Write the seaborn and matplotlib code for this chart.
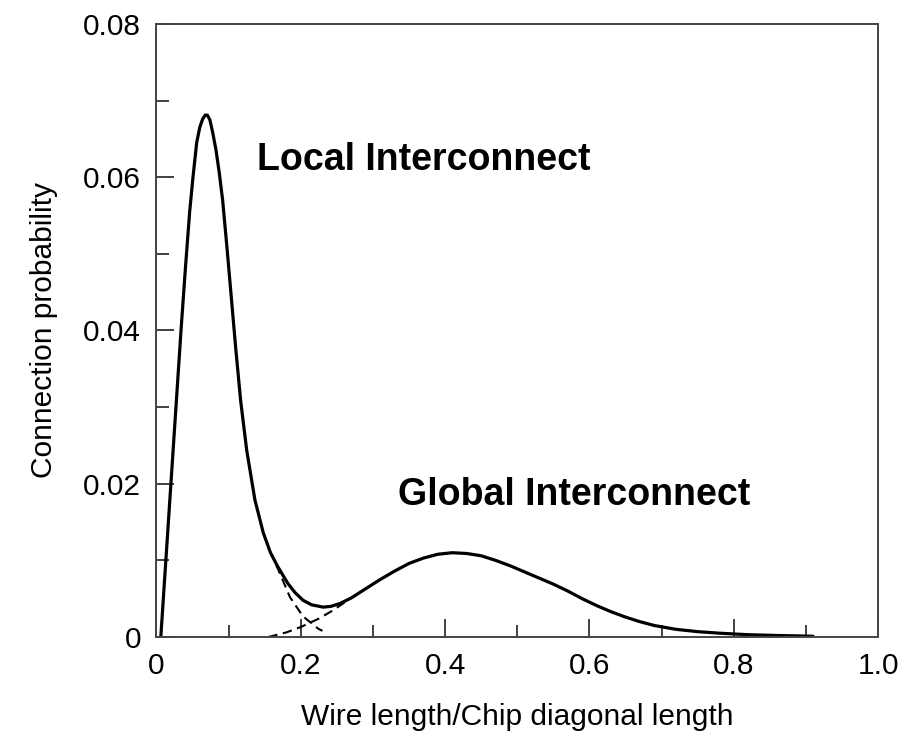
"""
plot.py
-------
Distribution des longueurs de fil (interconnexions locales / globales).
"""

import matplotlib
matplotlib.use("Agg")
import matplotlib.pyplot as plt
import pandas as pd
import seaborn as sns
from matplotlib.ticker import MultipleLocator

# Courbe totale
wire_length = [0.006, 0.013, 0.020, 0.027, 0.034, 0.040, 0.046, 0.0506, 0.0557,
               0.060, 0.064, 0.0675, 0.0705, 0.074, 0.078, 0.0824, 0.087, 0.0917,
               0.098, 0.104, 0.110, 0.1166, 0.125, 0.1364, 0.148, 0.158, 0.168,
               0.182, 0.192, 0.203, 0.215, 0.231, 0.242, 0.255, 0.270, 0.290,
               0.310, 0.330, 0.350, 0.370, 0.390, 0.410, 0.430, 0.450, 0.470,
               0.490, 0.510, 0.530, 0.550, 0.570, 0.590, 0.610, 0.630, 0.650,
               0.670, 0.690, 0.720, 0.750, 0.780, 0.820, 0.860, 0.910]
probability = [0.0, 0.010, 0.020, 0.030, 0.040, 0.048, 0.0555, 0.060, 0.0645,
               0.0665, 0.0676, 0.0681, 0.0681, 0.0675, 0.0658, 0.0636, 0.0606, 0.0570,
               0.0505, 0.0440, 0.0375, 0.0309, 0.0244, 0.0179, 0.0136, 0.0110, 0.0092,
               0.0070, 0.0058, 0.0048, 0.0042, 0.0039, 0.0040, 0.0044, 0.0051, 0.0063,
               0.0075, 0.0086, 0.0096, 0.0103, 0.0108, 0.0110, 0.0109, 0.0106, 0.0100,
               0.0093, 0.0085, 0.0077, 0.0069, 0.0060, 0.0050, 0.0041, 0.0033, 0.0026,
               0.0020, 0.0015, 0.0010, 0.0007, 0.0005, 0.0003, 0.0002, 0.0001]

# Queue de la composante locale (pointillés)
local_x = [0.166, 0.185, 0.203, 0.224, 0.230]
local_y = [0.0094, 0.0052, 0.0027, 0.0011, 0.0008]

# Début de la composante globale (pointillés)
global_x = [0.155, 0.180, 0.200, 0.225, 0.245, 0.262]
global_y = [0.0, 0.0006, 0.0013, 0.0024, 0.0035, 0.0046]

x_ticks = [0, 0.2, 0.4, 0.6, 0.8, 1.0]
x_tick_labels = ["0", "0.2", "0.4", "0.6", "0.8", "1.0"]
y_ticks = [0, 0.02, 0.04, 0.06, 0.08]
y_tick_labels = ["0", "0.02", "0.04", "0.06", "0.08"]


def plot_wire_distribution(save_path: str = "out.png"):
    """
    Trace la probabilité de connexion en fonction de la longueur de fil.
    """
    sns.set_theme(style="white")
    plt.rcParams["font.family"] = ["Liberation Sans", "DejaVu Sans"]
    plt.rcParams["text.color"] = "black"
    plt.rcParams["axes.labelcolor"] = "black"

    fig = plt.figure(figsize=(9.05, 7.42), dpi=100)
    ax = fig.add_axes([0.1729, 0.1415, 0.7973, 0.8262])

    df_total = pd.DataFrame({"x": wire_length, "y": probability})
    df_local = pd.DataFrame({"x": local_x, "y": local_y})
    df_global = pd.DataFrame({"x": global_x, "y": global_y})

    sns.lineplot(data=df_total, x="x", y="y", sort=False, estimator=None,
                 color="black", linewidth=2.3, ax=ax)
    for d in (df_local, df_global):
        sns.lineplot(data=d, x="x", y="y", sort=False, estimator=None,
                     color="black", linewidth=1.5, linestyle=(0, (4.5, 2.7)), ax=ax)

    ax.set_xlim(0, 1.0)
    ax.set_ylim(0, 0.08)
    ax.set_xticks(x_ticks)
    ax.set_xticklabels(x_tick_labels)
    ax.set_yticks(y_ticks)
    ax.set_yticklabels(y_tick_labels)
    ax.xaxis.set_minor_locator(MultipleLocator(0.1))
    ax.yaxis.set_minor_locator(MultipleLocator(0.01))

    ax.tick_params(axis="both", which="major", direction="in", length=13,
                   width=1.3, color="#333333", labelsize=21.5, pad=11,
                   labelcolor="black")
    ax.tick_params(axis="both", which="minor", direction="in", length=9,
                   width=1.3, color="#333333")
    ax.tick_params(bottom=True, left=True, top=False, right=False, which="both")

    for s in ax.spines.values():
        s.set_color("#444444")
        s.set_linewidth(1.4)

    ax.set_xlabel("Wire length/Chip diagonal length", fontsize=21.5, labelpad=16)
    ax.set_ylabel("Connection probability", fontsize=21.5, labelpad=18)

    ax.text(0.139, 0.0609, "Local Interconnect", fontsize=27, fontweight="bold",
            color="black", ha="left", va="baseline")
    ax.text(0.3345, 0.0172, "Global Interconnect", fontsize=27, fontweight="bold",
            color="black", ha="left", va="baseline")

    fig.savefig(save_path, dpi=100, facecolor="white")


if __name__ == "__main__":
    plot_wire_distribution("out.png")
